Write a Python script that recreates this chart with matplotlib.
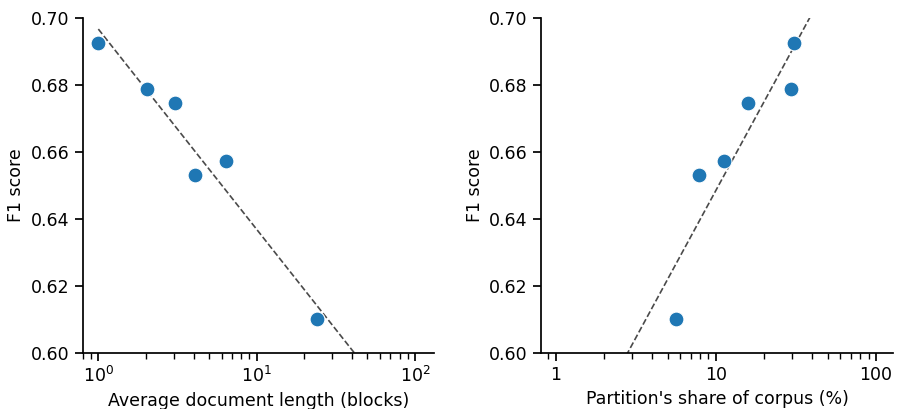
import numpy as np
import matplotlib
matplotlib.use("Agg")
import matplotlib.pyplot as plt
from matplotlib.ticker import ScalarFormatter

f1 = [0.6926, 0.6787, 0.6745, 0.6531, 0.6573, 0.6100]
doc_len = [1.0, 2.02, 3.03, 4.06, 6.4, 23.9]
share = [30.6, 29.7, 15.8, 7.9, 11.2, 5.68]

yticks = [0.60, 0.62, 0.64, 0.66, 0.68, 0.70]

plt.rcParams.update({
    "font.family": "DejaVu Sans",
    "font.size": 12.5,
    "axes.linewidth": 1.25,
    "xtick.major.width": 1.25,
    "ytick.major.width": 1.25,
    "xtick.minor.width": 1.0,
    "xtick.major.size": 6,
    "ytick.major.size": 6,
    "xtick.minor.size": 4,
})

fig = plt.figure(figsize=(8.98, 4.09), dpi=100)
W, H = 898, 409
ax1 = fig.add_axes([83 / W, 1 - 353 / H, (434 - 83) / W, (353 - 18) / H])
ax2 = fig.add_axes([541 / W, 1 - 353 / H, (893 - 541) / W, (353 - 18) / H])

col = "#1f77b4"
line_col = "#4a4a4a"

def panel(ax, x, y, xlim, line_lo):
    x = np.asarray(x); y = np.asarray(y)
    ax.scatter(x, y, s=115, color=col, edgecolor="white", linewidth=0.8, zorder=3)
    b, a = np.polyfit(np.log10(x), y, 1)
    xs = np.logspace(np.log10(line_lo), 2.2, 200)
    ax.plot(xs, a + b * np.log10(xs), ls="--", color=line_col, lw=1.2, zorder=2)
    ax.set_xscale("log")
    ax.set_xlim(*xlim)
    ax.set_ylim(0.60, 0.70)
    ax.set_yticks(yticks)
    ax.set_yticklabels([f"{t:.2f}" for t in yticks])
    ax.set_ylabel("F1 score")
    for s in ["top", "right"]:
        ax.spines[s].set_visible(False)

panel(ax1, doc_len, f1, (0.80, 132), min(doc_len))
ax1.set_xlabel("Average document length (blocks)")

panel(ax2, share, f1, (0.81, 128), 1.0)
ax2.set_xlabel("Partition's share of corpus (%)")
ax2.xaxis.set_major_formatter(ScalarFormatter())
ax2.set_xticks([1, 10, 100])
ax2.set_xticklabels(["1", "10", "100"])

fig.savefig("out.png", dpi=100)
